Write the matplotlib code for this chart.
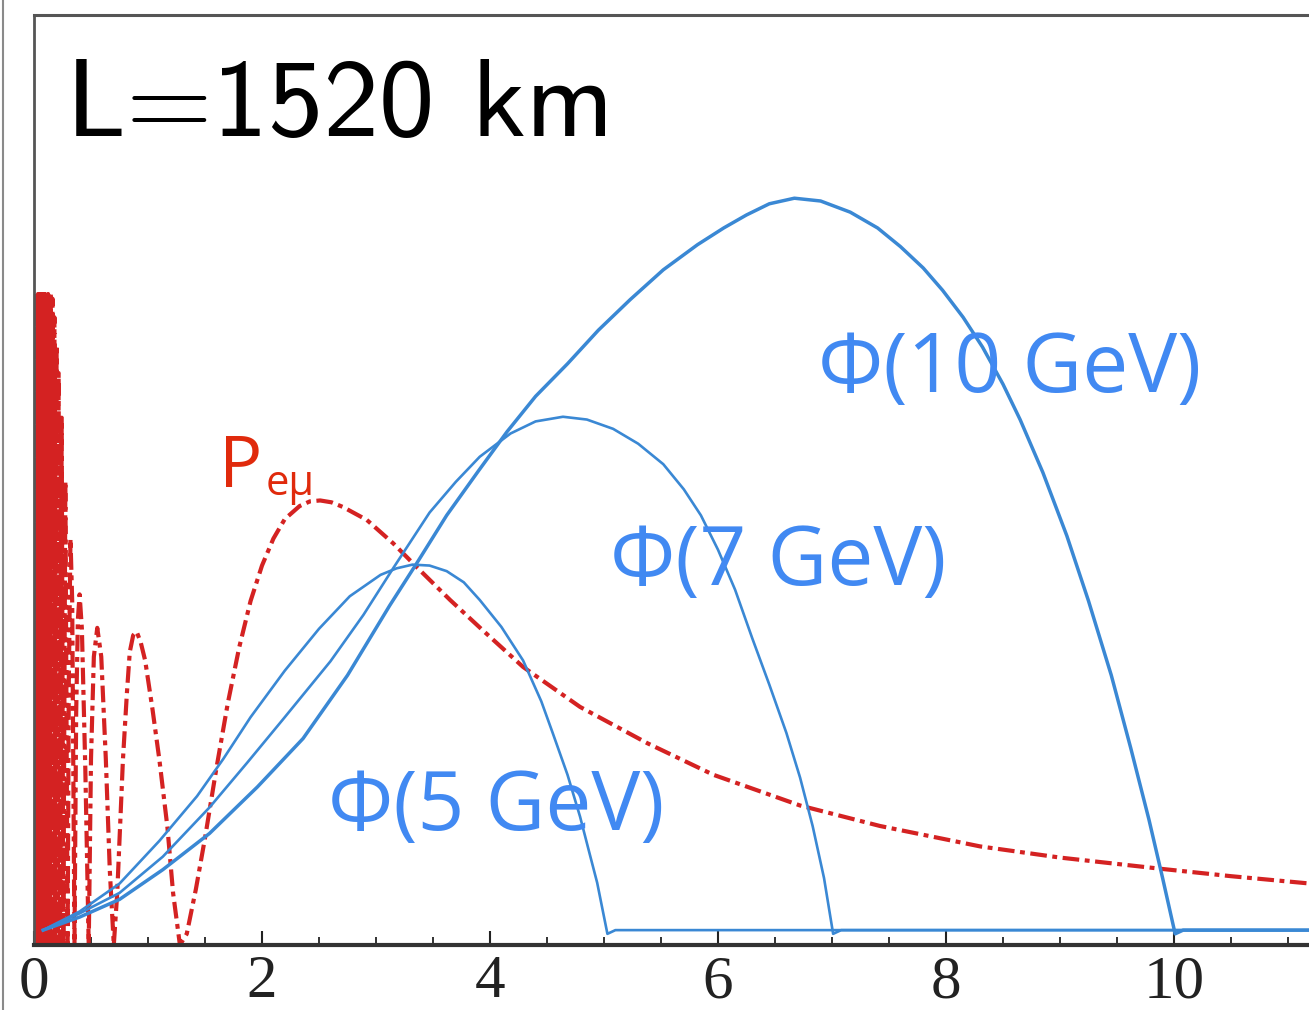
import matplotlib
matplotlib.use("Agg")
import matplotlib.pyplot as plt
from matplotlib.lines import Line2D
from matplotlib.ticker import MultipleLocator

# ── oscillation probability P_emu vs neutrino energy (GeV), L = 1520 km ──
# fast oscillations at low energy, then the individual lobes
peff_low_E = [0.010, 0.015, 0.020, 0.025, 0.030, 0.035, 0.040, 0.045, 0.050,
              0.055, 0.060, 0.065, 0.070, 0.075, 0.080, 0.085, 0.090, 0.095,
              0.100, 0.1045, 0.109, 0.1135, 0.118, 0.1235, 0.129, 0.135,
              0.141, 0.1475, 0.154, 0.162, 0.170, 0.179, 0.188, 0.198, 0.208,
              0.216, 0.228, 0.243, 0.257, 0.275, 0.295, 0.305, 0.320, 0.335,
              0.355, 0.370, 0.385, 0.400, 0.420, 0.450, 0.480, 0.500, 0.525,
              0.555, 0.590, 0.630, 0.665, 0.700]
peff_low_P = [0.00, 0.70, 0.00, 0.70, 0.00, 0.70, 0.00, 0.70, 0.00,
              0.70, 0.00, 0.70, 0.00, 0.70, 0.00, 0.70, 0.00, 0.70,
              0.00, 0.70, 0.00, 0.70, 0.00, 0.70, 0.00, 0.70,
              0.00, 0.70, 0.00, 0.695, 0.00, 0.675, 0.00, 0.645, 0.00,
              0.615, 0.00, 0.567, 0.00, 0.499, 0.00, 0.28, 0.437, 0.37,
              0.00, 0.25, 0.35, 0.377, 0.34, 0.19, 0.00, 0.20, 0.31,
              0.341, 0.31, 0.20, 0.08, 0.00]
# second lobe and the first (largest) maximum with its high-energy tail
peff_high_E = [0.730, 0.755, 0.780, 0.815, 0.840, 0.870, 0.900, 0.935, 0.975,
               1.040, 1.100, 1.170, 1.220, 1.280, 1.340, 1.420, 1.500, 1.600,
               1.700, 1.800, 1.900, 2.000, 2.100, 2.200, 2.330, 2.420, 2.510,
               2.610, 2.710, 2.920, 3.150, 3.360, 3.650, 3.940, 4.290, 4.790,
               5.380, 5.960, 6.720, 7.420, 8.300, 9.000, 9.880, 10.50, 11.20]
peff_high_P = [0.056, 0.127, 0.199, 0.271, 0.315, 0.333, 0.337, 0.326, 0.306,
               0.253, 0.199, 0.127, 0.056, 0.000, 0.012, 0.060, 0.115, 0.190,
               0.260, 0.320, 0.370, 0.408, 0.437, 0.458, 0.472, 0.477, 0.478,
               0.476, 0.471, 0.457, 0.432, 0.406, 0.371, 0.338, 0.299, 0.256,
               0.217, 0.183, 0.150, 0.128, 0.106, 0.094, 0.082, 0.074, 0.066]

# ── beam fluxes Phi(E) for 5, 7 and 10 GeV stored muons (arb. units) ──
phi5_E = [0.08, 0.40, 0.75, 1.10, 1.43, 1.66, 1.90, 2.20, 2.50, 2.77, 3.04,
          3.18, 3.32, 3.47, 3.62, 3.77, 3.91, 4.10, 4.29, 4.45, 4.55, 4.68,
          4.79, 4.87, 4.94, 5.03, 5.10, 11.2]
phi5_F = [0.016, 0.036, 0.066, 0.112, 0.160, 0.200, 0.245, 0.295, 0.340,
          0.375, 0.398, 0.405, 0.409, 0.408, 0.402, 0.390, 0.371, 0.342,
          0.306, 0.262, 0.228, 0.183, 0.138, 0.100, 0.067, 0.012, 0.016, 0.016]

phi7_E = [0.08, 0.40, 0.75, 1.13, 1.54, 1.87, 2.18, 2.60, 2.89, 3.15, 3.47,
          3.70, 3.91, 4.18, 4.40, 4.64, 4.85, 5.08, 5.30, 5.52, 5.70, 5.85,
          6.00, 6.15, 6.30, 6.45, 6.60, 6.72, 6.83, 6.93, 7.01, 7.08, 11.2]
phi7_F = [0.016, 0.034, 0.056, 0.095, 0.148, 0.196, 0.242, 0.305, 0.355,
          0.405, 0.465, 0.498, 0.525, 0.550, 0.563, 0.568, 0.565, 0.555,
          0.539, 0.517, 0.490, 0.462, 0.425, 0.382, 0.330, 0.280, 0.228,
          0.180, 0.128, 0.072, 0.012, 0.016, 0.016]

phi10_E = [0.08, 0.40, 0.75, 1.13, 1.54, 1.96, 2.36, 2.75, 3.12, 3.36, 3.62,
           3.90, 4.15, 4.40, 4.68, 4.95, 5.23, 5.52, 5.82, 6.05, 6.25, 6.45,
           6.67, 6.90, 7.16, 7.40, 7.60, 7.80, 7.97, 8.15, 8.32, 8.50, 8.65,
           8.85, 9.06, 9.25, 9.45, 9.62, 9.78, 9.90, 10.01, 10.08, 11.2]
phi10_F = [0.016, 0.030, 0.049, 0.081, 0.120, 0.170, 0.222, 0.290, 0.365,
           0.411, 0.462, 0.510, 0.552, 0.590, 0.625, 0.661, 0.694, 0.726,
           0.753, 0.771, 0.785, 0.797, 0.803, 0.800, 0.788, 0.771, 0.751,
           0.728, 0.704, 0.675, 0.643, 0.603, 0.565, 0.508, 0.440, 0.370,
           0.290, 0.212, 0.135, 0.072, 0.012, 0.016, 0.016]

major_ticks = [0, 2, 4, 6, 8, 10]

# ── figure ──
plt.rcParams['lines.scale_dashes'] = False
fig = plt.figure(figsize=(13.09, 10.10), dpi=100)
ax = fig.add_axes([34 / 1309, 65 / 1010, 11.2 * 114 / 1309, 930 / 1010])

red = '#d42222'
blue_line = '#3a88d4'
blue_text = '#4189f2'

ax.plot(peff_low_E + peff_high_E, peff_low_P + peff_high_P, color=red,
        lw=3.0, dashes=(12, 4, 3.5, 4), zorder=2)

ax.plot(phi5_E, phi5_F, color=blue_line, lw=1.9, zorder=3,
        solid_joinstyle='round')
ax.plot(phi7_E, phi7_F, color=blue_line, lw=1.9, zorder=3,
        solid_joinstyle='round')
ax.plot(phi10_E, phi10_F, color=blue_line, lw=2.5, zorder=3,
        solid_joinstyle='round')

# curve labels
label_font = dict(family='Open Sans', color=blue_text, fontsize=59,
                  va='baseline', ha='left', zorder=4)
ax.text(6.88, 0.595, 'Φ(10 GeV)', **label_font)
ax.text(5.05, 0.387, 'Φ(7 GeV)', **label_font)
ax.text(2.58, 0.124, 'Φ(5 GeV)', **label_font)

ax.text(1.62, 0.492, 'P', family='Open Sans', color='#e02a0c', fontsize=52,
        va='baseline', ha='left')
ax.text(2.03, 0.484, 'eμ', family='Open Sans', color='#e02a0c', fontsize=30,
        va='baseline', ha='left')

ax.text(0.28, 0.870, 'L=1520 km', family='cmss10', fontsize=80,
        color='black', va='baseline', ha='left')

# axes
ax.set_xlim(0, 11.2)
ax.set_ylim(0, 1)
ax.set_yticks([])
ax.set_xticks(major_ticks)
ax.xaxis.set_minor_locator(MultipleLocator(0.5))
ax.tick_params(axis='x', which='major', direction='in', length=10, width=1.5,
               pad=7, labelsize=44, colors='#222222',
               labelfontfamily='Liberation Serif')
ax.tick_params(axis='x', which='minor', direction='in', length=6, width=1.3,
               colors='#222222')

ax.spines['right'].set_visible(False)
ax.spines['bottom'].set_linewidth(3)
ax.spines['bottom'].set_color('#333333')
ax.spines['left'].set_linewidth(2)
ax.spines['left'].set_color('#555555')
ax.spines['top'].set_linewidth(2.2)
ax.spines['top'].set_color('#555555')

# thin frame line at the far left of the panel
fig.add_artist(Line2D([2.5 / 1309, 2.5 / 1309], [0, 1], color='#8a8a8a',
                      lw=1.5, transform=fig.transFigure))

fig.savefig('out.png', dpi=100)
